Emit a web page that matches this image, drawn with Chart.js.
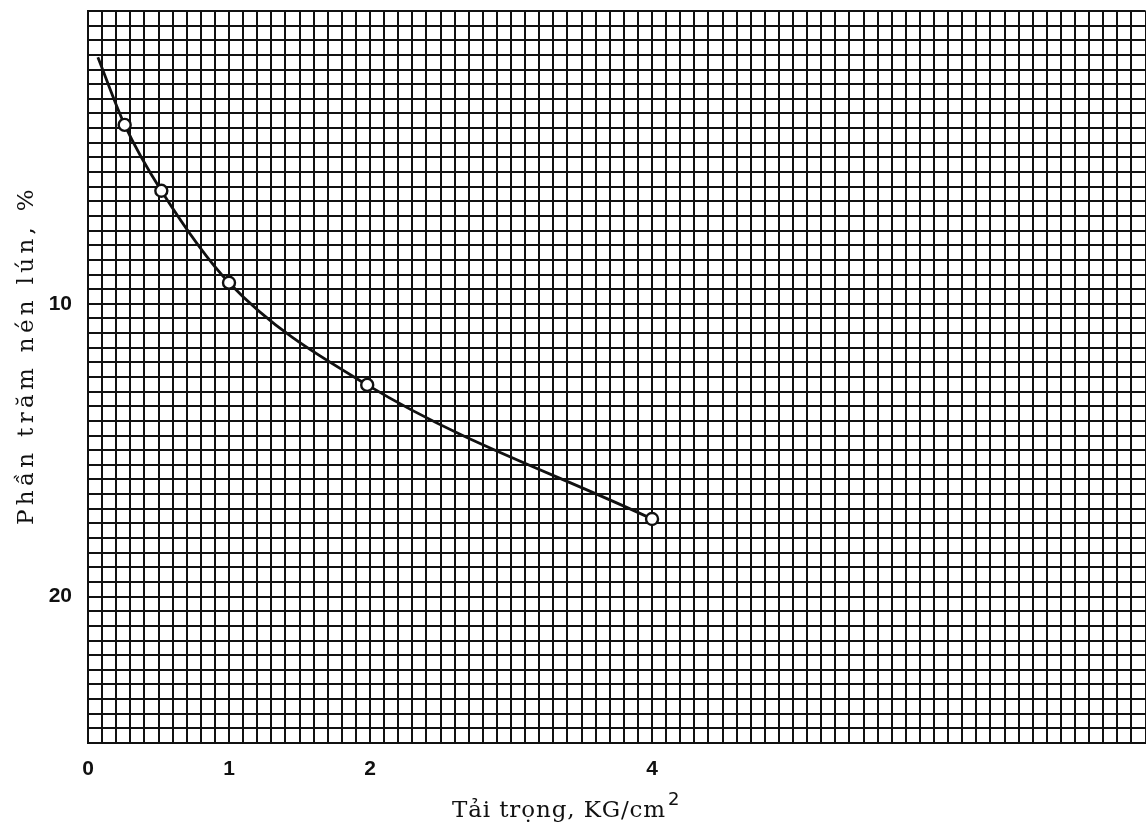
<!DOCTYPE html>
<html>
<head>
<meta charset="utf-8">
<script src="https://cdn.jsdelivr.net/npm/chart.js@4/dist/chart.umd.min.js"></script>
<style>
  html, body { margin: 0; padding: 0; background: #fff; overflow: hidden; }
  /* a little wider than the window: the scan's grid runs off the right edge */
  #wrap { width: 1154px; height: 834px; position: relative; }
  canvas { display: block; }
</style>
</head>
<body>
<div id="wrap"><canvas id="chart"></canvas></div>
<script>
// values
var loads = [0.07, 0.26, 0.52, 1.0, 1.98, 4.0];          // Tải trọng, KG/cm2
var settlement = [1.58, 3.89, 6.14, 9.28, 12.77, 17.35]; // Phần trăm nén lún, %
var markerSize = [0, 6, 6, 6, 6, 6];                     // first point is only the curve start
var xTickLabels = [0, 1, 2, 4];
var yTickLabels = [10, 20];

var xTitle = "Tải trọng, KG/cm";
var xTitleSup = "2";
var yTitle = "Phần trăm nén lún, %";

var points = [];
for (var i = 0; i < loads.length; i++) {
    points.push({ x: loads[i], y: settlement[i] });
}

function isLabelled(value, list) {
    for (var i = 0; i < list.length; i++) {
        if (Math.abs(value - list[i]) < 1e-6) return true;
    }
    return false;
}

// draws the two axis titles where the scan has them
var titlesPlugin = {
    id: "titles",
    afterDraw: function(chart) {
        var ctx = chart.ctx;
        ctx.save();
        ctx.fillStyle = "#111";
        ctx.textBaseline = "alphabetic";

        // x title, left edge 452, superscript 2 after it
        ctx.font = "23px 'DejaVu Serif'";
        ctx.textAlign = "left";
        ctx.letterSpacing = "0px";
        var w = ctx.measureText(xTitle).width;
        ctx.letterSpacing = ((214 - w) / xTitle.length).toFixed(2) + "px";
        ctx.fillText(xTitle, 452, 817);
        ctx.letterSpacing = "0px";
        ctx.font = "18px 'DejaVu Sans'";
        ctx.fillText(xTitleSup, 668, 805);

        // y title, rotated
        ctx.font = "23px 'DejaVu Serif'";
        ctx.textAlign = "center";
        ctx.translate(33, 355);
        ctx.rotate(-Math.PI / 2);
        ctx.letterSpacing = "0px";
        w = ctx.measureText(yTitle).width;
        ctx.letterSpacing = ((340 - w) / yTitle.length).toFixed(2) + "px";
        ctx.fillText(yTitle, 0, 0);
        ctx.restore();
    }
};

var ctx = document.getElementById("chart").getContext("2d");
var chart = new Chart(ctx, {
    type: "line",
    data: {
        datasets: [{
            data: points,
            borderColor: "#111",
            borderWidth: 2.8,
            cubicInterpolationMode: "monotone",
            fill: false,
            pointRadius: markerSize,
            pointBackgroundColor: "#fff",
            pointBorderColor: "#111",
            pointBorderWidth: 2.4
        }]
    },
    options: {
        responsive: true,
        maintainAspectRatio: false,
        animation: false,
        events: [],
        layout: { padding: { top: 11, right: 1, left: 0, bottom: 0 } },
        plugins: {
            legend: { display: false },
            tooltip: { enabled: false }
        },
        scales: {
            x: {
                type: "linear",
                min: 0,
                max: 7.5,
                afterFit: function(scale) {
                    scale.height = 91;
                    scale.paddingLeft = 0;
                    scale.paddingRight = 0;
                },
                grid: { color: "#111", lineWidth: 2, drawTicks: false },
                border: { display: true, color: "#111", width: 2 },
                ticks: {
                    stepSize: 0.1,
                    autoSkip: false,
                    maxRotation: 0,
                    padding: 14,
                    color: "#111",
                    font: { family: "'Liberation Sans'", size: 21, weight: "bold" },
                    callback: function(value) {
                        return isLabelled(value, xTickLabels) ? String(Math.round(value)) : "";
                    }
                }
            },
            y: {
                type: "linear",
                reverse: true,
                min: 0,
                max: 25,
                afterFit: function(scale) {
                    scale.width = 88;
                    scale.paddingTop = 0;
                    scale.paddingBottom = 0;
                },
                grid: { color: "#111", lineWidth: 2, drawTicks: false },
                border: { display: true, color: "#111", width: 2 },
                ticks: {
                    stepSize: 0.5,
                    autoSkip: false,
                    padding: 16,
                    color: "#111",
                    font: { family: "'Liberation Sans'", size: 21, weight: "bold" },
                    callback: function(value) {
                        return isLabelled(value, yTickLabels) ? String(Math.round(value)) : "";
                    }
                }
            }
        }
    },
    plugins: [titlesPlugin]
});
</script>
</body>
</html>
